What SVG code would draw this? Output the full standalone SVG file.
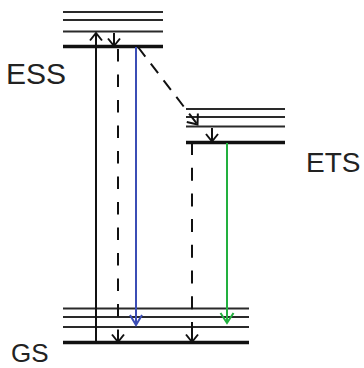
<svg xmlns="http://www.w3.org/2000/svg" width="364" height="368" viewBox="0 0 364 368">
<style>
.thin{stroke:#2a2a2a;stroke-width:2;fill:none}
.thick{stroke:#111;stroke-width:3.4;fill:none}
.lbl{font-family:"Liberation Sans",Arial,sans-serif;fill:#222}
.k{stroke:#111;stroke-width:2;fill:none}
.dash{stroke-dasharray:12.5 13}
</style>
<defs>
<marker id="hk" viewBox="-10 -8 12 16" markerWidth="12" markerHeight="16" refX="0" refY="0" orient="auto" markerUnits="userSpaceOnUse">
<path d="M-7.5,-6 L0,0 L-7.5,6" fill="none" stroke="#111" stroke-width="2"/>
</marker>
<marker id="hd" viewBox="-12 -8 14 16" markerWidth="14" markerHeight="16" refX="0" refY="0" orient="auto" markerUnits="userSpaceOnUse">
<path d="M-8.5,-7 L0,0 L-8.5,7" fill="none" stroke="#111" stroke-width="2"/>
</marker>
<marker id="hb" viewBox="-12 -8 14 16" markerWidth="14" markerHeight="16" refX="0" refY="0" orient="auto" markerUnits="userSpaceOnUse">
<path d="M-10,-6 L0,0 L-10,6" fill="none" stroke="#3b4db5" stroke-width="2"/>
</marker>
<marker id="hg" viewBox="-12 -8 14 16" markerWidth="14" markerHeight="16" refX="0" refY="0" orient="auto" markerUnits="userSpaceOnUse">
<path d="M-10,-6.5 L0,0 L-10,6.5" fill="none" stroke="#22b03f" stroke-width="2"/>
</marker>
</defs>
<g id="ESS">
<line class="thin" x1="63" y1="12" x2="163" y2="12"/>
<line class="thin" x1="63" y1="20" x2="163" y2="20"/>
<line class="thin" x1="63" y1="31.5" x2="163" y2="31.5"/>
<line class="thick" x1="63" y1="46.5" x2="163" y2="46.5"/>
<text class="lbl" x="6" y="83.5" font-size="30">ESS</text>
</g>
<g id="ETS">
<line class="thin" x1="186" y1="109" x2="285" y2="109"/>
<line class="thin" x1="186" y1="117" x2="285" y2="117"/>
<line class="thin" x1="186" y1="126.5" x2="285" y2="126.5"/>
<line class="thick" x1="186" y1="142.5" x2="285" y2="142.5"/>
<text class="lbl" x="306" y="172" font-size="28">ETS</text>
</g>
<g id="GS">
<line class="thin" x1="63" y1="308.5" x2="249" y2="308.5"/>
<line class="thin" x1="63" y1="317" x2="249" y2="317"/>
<line class="thin" x1="63" y1="327" x2="249" y2="327"/>
<line class="thick" x1="63" y1="342.5" x2="249" y2="342.5"/>
<text class="lbl" x="11" y="362" font-size="26">GS</text>
</g>
<g id="connectors">
<line class="k" x1="96" y1="342.5" x2="96" y2="33" marker-end="url(#hk)"/>
<line class="k" x1="114" y1="33" x2="114" y2="46" marker-end="url(#hk)"/>
<line class="k dash" x1="118" y1="49" x2="118" y2="342" marker-end="url(#hk)"/>
<line stroke="#3b4db5" stroke-width="2" x1="136" y1="47" x2="136" y2="325" marker-end="url(#hb)"/>
<line class="k" x1="138" y1="47" x2="197.5" y2="124.5" stroke-dasharray="12 9" marker-end="url(#hd)"/>
<line class="k" x1="212" y1="128" x2="212" y2="141.5" marker-end="url(#hk)"/>
<line class="k" x1="192" y1="142" x2="192" y2="335" stroke-dasharray="13 12.7"/>
<line class="k" x1="192" y1="328" x2="192" y2="342" marker-end="url(#hk)"/>
<line stroke="#22b03f" stroke-width="2" x1="227" y1="143" x2="227" y2="323" marker-end="url(#hg)"/>
</g>
</svg>
